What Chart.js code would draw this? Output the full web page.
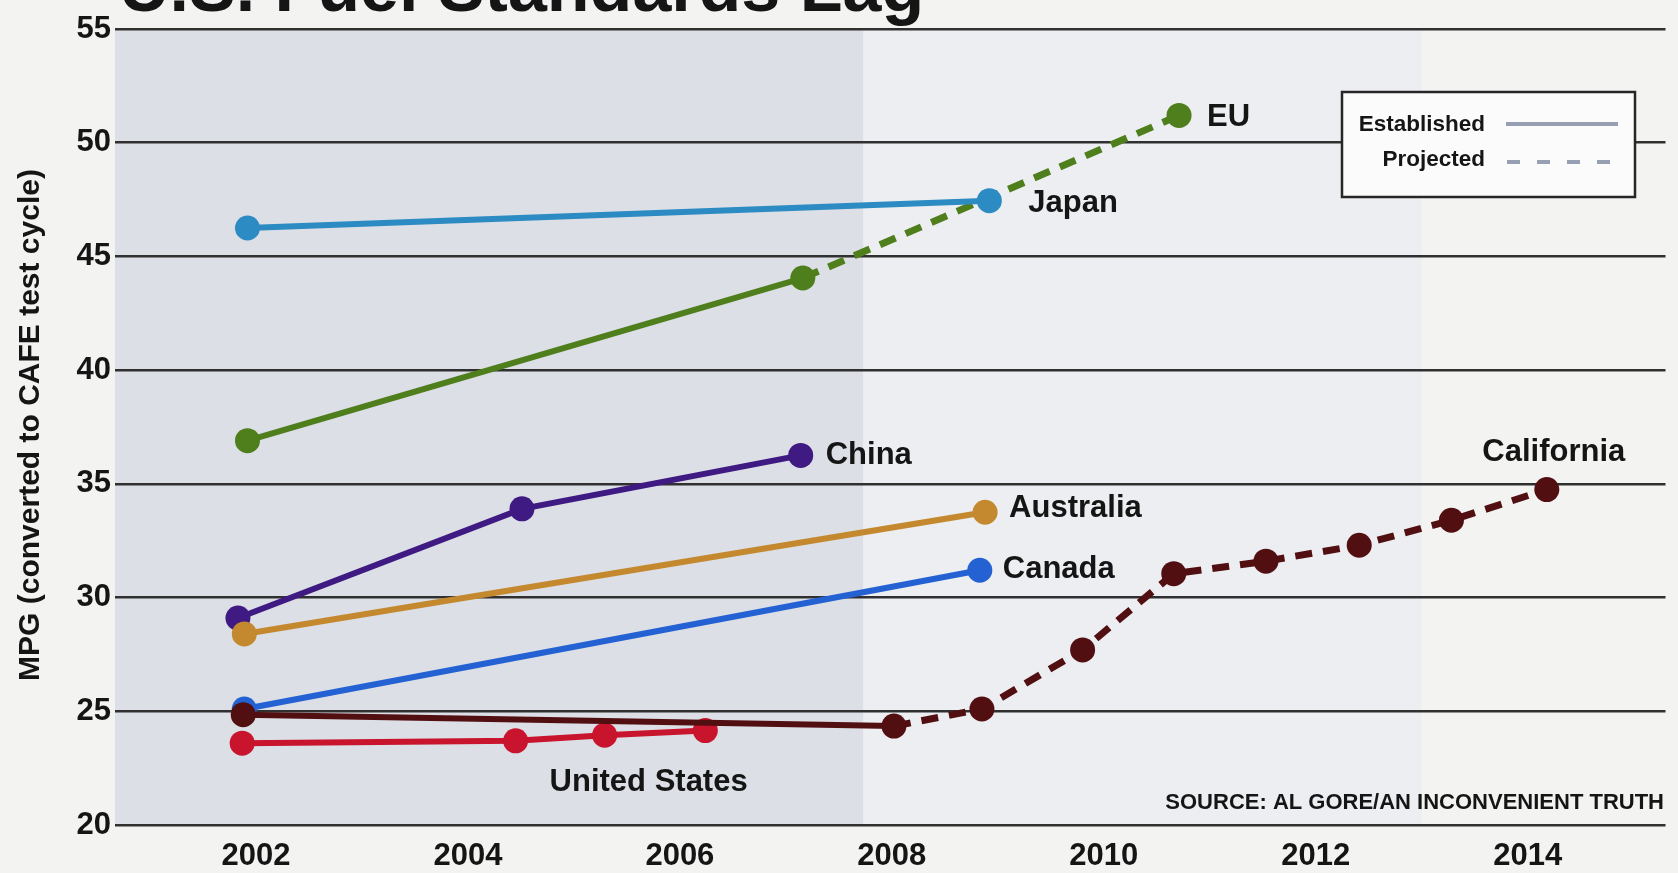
<!DOCTYPE html>
<html>
<head>
<meta charset="utf-8">
<title>U.S. Fuel Standards Lag</title>
<script src="https://cdn.jsdelivr.net/npm/chart.js@4.4.1/dist/chart.umd.min.js"></script>
<style>
  html, body { margin: 0; padding: 0; background: #f3f3f2; }
  #wrap { position: relative; width: 1678px; height: 873px; }
</style>
</head>
<body>
<div id="wrap"><canvas id="chart" width="1678" height="873"></canvas></div>
<script>
// Fuel economy standards, MPG converted to the CAFE test cycle
const tickYears = [2002, 2004, 2006, 2008, 2010, 2012, 2014];
const mpgTicks = [20, 25, 30, 35, 40, 45, 50, 55];

const japanYears = [2001.92, 2008.92];
const japanMpg = [46.25, 47.45];

const euYears = [2001.92, 2007.16, 2010.71];
const euMpg = [36.9, 44.05, 51.2];

const chinaYears = [2001.83, 2004.51, 2007.14];
const chinaMpg = [29.1, 33.9, 36.25];

const australiaYears = [2001.89, 2008.88];
const australiaMpg = [28.4, 33.75];

const canadaYears = [2001.89, 2008.83];
const canadaMpg = [25.1, 31.2];

const usYears = [2001.87, 2004.45, 2005.29, 2006.24];
const usMpg = [23.6, 23.7, 23.95, 24.15];

const californiaYears = [2001.88, 2008.02, 2008.85, 2009.80, 2010.66, 2011.53, 2012.41, 2013.28, 2014.18];
const californiaMpg = [24.85, 24.35, 25.1, 27.7, 31.05, 31.6, 32.3, 33.4, 34.75];

// first point index from which the line continues as a projection
const euProjectedFrom = 1;
const californiaProjectedFrom = 1;

const legendLabels = ['Established', 'Projected'];
const titleText = 'U.S. Fuel Standards Lag';
const axisTitleText = 'MPG (converted to CAFE test cycle)';
const sourceText = 'SOURCE: AL GORE/AN INCONVENIENT TRUTH';

// ---- styling ----
const SANS = '"Liberation Sans", Arial, Helvetica, sans-serif';
const INK = '#151515';

// series drawn first in this list end up on top
const seriesList = [
  { name: 'Japan', years: japanYears, mpg: japanMpg, color: '#2b8bc2', projectedFrom: null,
    tag: { text: 'Japan', at: 1, dx: 39, dy: 11, align: 'left' } },
  { name: 'California', years: californiaYears, mpg: californiaMpg, color: '#520f12', projectedFrom: californiaProjectedFrom,
    tag: { text: 'California', at: 8, dx: 7, dy: -29, align: 'center' } },
  { name: 'United States', years: usYears, mpg: usMpg, color: '#c8142c', projectedFrom: null,
    tag: { text: 'United States', at: 2, dx: 44, dy: 56, align: 'center' } },
  { name: 'Canada', years: canadaYears, mpg: canadaMpg, color: '#2462d4', projectedFrom: null,
    tag: { text: 'Canada', at: 1, dx: 23, dy: 8, align: 'left' } },
  { name: 'Australia', years: australiaYears, mpg: australiaMpg, color: '#c4892f', projectedFrom: null,
    tag: { text: 'Australia', at: 1, dx: 24, dy: 5, align: 'left' } },
  { name: 'China', years: chinaYears, mpg: chinaMpg, color: '#3f1a82', projectedFrom: null,
    tag: { text: 'China', at: 2, dx: 25, dy: 9, align: 'left' } },
  { name: 'EU', years: euYears, mpg: euMpg, color: '#4f7e1c', projectedFrom: euProjectedFrom,
    tag: { text: 'EU', at: 2, dx: 28, dy: 11, align: 'left' } }
];

function makeDataset(s) {
  const projected = ctx => s.projectedFrom !== null && ctx.p0DataIndex >= s.projectedFrom;
  return {
    label: s.name,
    data: s.years.map((yr, i) => ({ x: yr, y: s.mpg[i] })),
    borderColor: s.color,
    backgroundColor: s.color,
    pointBackgroundColor: s.color,
    pointBorderColor: s.color,
    pointBorderWidth: 0,
    pointRadius: 12.5,
    pointHoverRadius: 12.5,
    borderWidth: 6,
    borderCapStyle: 'butt',
    tension: 0,
    fill: false,
    segment: {
      borderDash: ctx => projected(ctx) ? [17, 11] : undefined,
      borderWidth: ctx => projected(ctx) ? 7 : undefined
    }
  };
}

// page tint behind the plot
const backdrop = {
  id: 'backdrop',
  beforeDraw(chart) {
    const { ctx, chartArea: a, scales } = chart;
    ctx.save();
    ctx.fillStyle = '#f3f3f2';
    ctx.fillRect(0, 0, chart.width, chart.height);
    const split = scales.x.getPixelForValue(2007.73);
    const split2 = scales.x.getPixelForValue(2013.0);
    ctx.fillStyle = '#eceef1';
    ctx.fillRect(split, a.top, split2 - split, a.bottom - a.top);
    ctx.fillStyle = '#dcdfe6';
    ctx.fillRect(a.left, a.top, split - a.left, a.bottom - a.top);
    ctx.restore();
  }
};

// titles, series names, legend box and source line
const annotations = {
  id: 'annotations',
  afterDraw(chart) {
    const { ctx, scales } = chart;
    const xs = scales.x, ys = scales.y;
    ctx.save();
    ctx.fillStyle = INK;

    // headline, only its lower edge fits on the page
    ctx.font = 'bold 70px ' + SANS;
    ctx.textAlign = 'left';
    ctx.textBaseline = 'alphabetic';
    ctx.fillText(titleText, 119, 11);

    // vertical axis title
    ctx.save();
    ctx.translate(31, 425);
    ctx.rotate(-Math.PI / 2);
    ctx.font = 'bold 30px ' + SANS;
    ctx.textAlign = 'center';
    ctx.textBaseline = 'middle';
    ctx.fillText(axisTitleText, 0, 0);
    ctx.restore();

    // series names next to their points
    ctx.font = 'bold 31px ' + SANS;
    ctx.textBaseline = 'alphabetic';
    seriesList.forEach(s => {
      const t = s.tag;
      const px = xs.getPixelForValue(s.years[t.at]);
      const py = ys.getPixelForValue(s.mpg[t.at]);
      ctx.textAlign = t.align;
      ctx.fillText(t.text, px + t.dx, py + t.dy);
    });

    // legend
    const bx = 1342, by = 92, bw = 293, bh = 105;
    ctx.fillStyle = '#fbfbfb';
    ctx.fillRect(bx, by, bw, bh);
    ctx.lineWidth = 2.5;
    ctx.strokeStyle = '#262626';
    ctx.strokeRect(bx, by, bw, bh);
    ctx.fillStyle = INK;
    ctx.font = 'bold 22.5px ' + SANS;
    ctx.textAlign = 'right';
    ctx.fillText(legendLabels[0], 1485, 131);
    ctx.fillText(legendLabels[1], 1485, 166);
    ctx.lineWidth = 4;
    ctx.strokeStyle = '#97a0b3';
    ctx.setLineDash([]);
    ctx.beginPath(); ctx.moveTo(1506, 124); ctx.lineTo(1618, 124); ctx.stroke();
    ctx.setLineDash([13, 17]);
    ctx.beginPath(); ctx.moveTo(1507, 162); ctx.lineTo(1619, 162); ctx.stroke();
    ctx.setLineDash([]);

    // source line
    ctx.fillStyle = INK;
    ctx.font = 'bold 22px ' + SANS;
    ctx.textAlign = 'right';
    ctx.fillText(sourceText, 1664, 809);
    ctx.restore();
  }
};

new Chart(document.getElementById('chart'), {
  type: 'line',
  data: { datasets: seriesList.map(makeDataset) },
  options: {
    responsive: false,
    animation: false,
    events: [],
    layout: { padding: { top: 29, right: 10, left: 0, bottom: 0 } },
    plugins: { legend: { display: false }, tooltip: { enabled: false }, title: { display: false } },
    scales: {
      x: {
        type: 'linear',
        min: 2000.67,
        max: 2015.30,
        afterBuildTicks: s => { s.ticks = tickYears.map(v => ({ value: v })); },
        afterFit: s => { s.height = 48; },
        ticks: {
          callback: v => String(v),
          font: { family: SANS, size: 31, weight: 'bold' },
          color: INK,
          padding: 13,
          maxRotation: 0,
          autoSkip: false
        },
        grid: { display: false, drawTicks: false },
        border: { display: false }
      },
      y: {
        min: 20,
        max: 55,
        afterBuildTicks: s => { s.ticks = mpgTicks.map(v => ({ value: v })); },
        afterFit: s => { s.width = 115; },
        ticks: {
          font: { family: SANS, size: 31, weight: 'bold' },
          color: INK,
          padding: 4
        },
        grid: { color: '#303030', lineWidth: 2.5, drawTicks: false },
        border: { display: false }
      }
    }
  },
  plugins: [backdrop, annotations]
});
</script>
</body>
</html>
